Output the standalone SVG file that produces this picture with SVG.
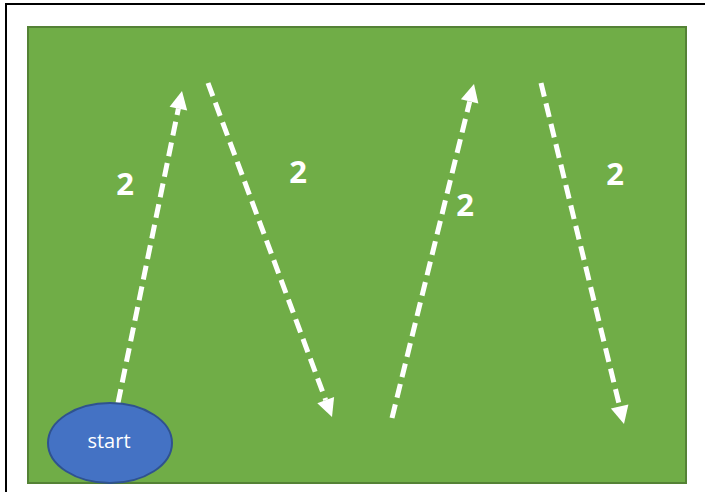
<svg xmlns="http://www.w3.org/2000/svg" width="705" height="492" viewBox="0 0 705 492">
  <style>
    .conn { fill: none; stroke: #FFFFFF; stroke-width: 5; stroke-dasharray: 14 7; }
    .head { fill: #FFFFFF; }
    .lbl { font-family: "Open Sans", "Liberation Sans", Arial, sans-serif; font-weight: bold; font-size: 31px; fill: #FFFFFF; text-anchor: middle; }
  </style>
  <rect x="0" y="0" width="705" height="492" fill="#FFFFFF"/>
  <rect x="6" y="4" width="710" height="500" fill="none" stroke="#000000" stroke-width="2"/>
  <g id="field">
    <rect x="28" y="27" width="658" height="456" fill="#70AD47" stroke="#548235" stroke-width="2"/>
  </g>
  <g id="connectors">
    <line class="conn" x1="118" y1="403" x2="178.4" y2="108.6"/>
    <polygon class="head" points="182,91 187.2,110.4 169.6,106.8"/>
    <line class="conn" x1="208" y1="83" x2="325.7" y2="400.1"/>
    <polygon class="head" points="332,417 334.1,397.1 317.3,403.2"/>
    <line class="conn" x1="392" y1="418" x2="469.7" y2="101.5"/>
    <polygon class="head" points="474,84 478.4,103.6 460.9,99.3"/>
    <line class="conn" x1="541" y1="83" x2="619.7" y2="406.5"/>
    <polygon class="head" points="624,424 628.4,404.4 610.9,408.6"/>
  </g>
  <g id="labels">
    <text class="lbl" x="125" y="195">2</text>
    <text class="lbl" x="298" y="183">2</text>
    <text class="lbl" x="465" y="216">2</text>
    <text class="lbl" x="615" y="185">2</text>
  </g>
  <g id="start">
    <ellipse cx="110" cy="443" rx="62" ry="40" fill="#4472C4" stroke="#2F528F" stroke-width="2"/>
    <text x="109" y="448" font-family="Open Sans, Liberation Sans, Arial, sans-serif" font-size="20" fill="#FFFFFF" text-anchor="middle">start</text>
  </g>
</svg>
